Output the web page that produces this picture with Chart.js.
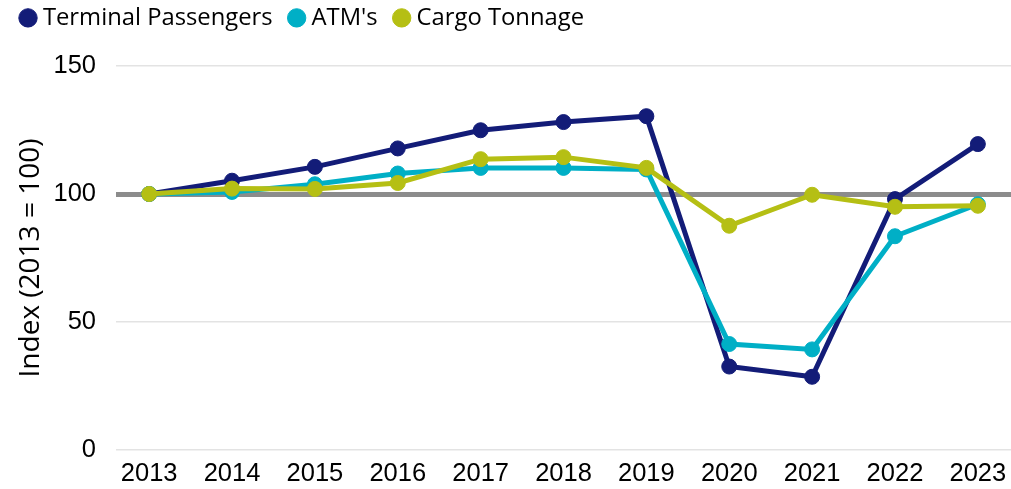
<!DOCTYPE html>
<html>
<head>
<meta charset="utf-8">
<script src="https://cdn.jsdelivr.net/npm/chart.js@4/dist/chart.umd.min.js"></script>
<style>
  html, body { margin: 0; padding: 0; background: #fff; overflow: hidden; }
  #wrap { width: 1011px; height: 489px; position: relative; }
  #chart { display: block; }
</style>
</head>
<body>
<div id="wrap"><canvas id="chart"></canvas></div>
<script>
// Index values, 2013 = 100
const years = [2013, 2014, 2015, 2016, 2017, 2018, 2019, 2020, 2021, 2022, 2023];
const terminalPassengers = [100, 105.2, 110.6, 117.8, 124.9, 128.1, 130.4, 32.6, 28.6, 98.0, 119.5];
const atms = [100, 100.8, 103.8, 108.0, 110.2, 110.2, 109.6, 41.4, 39.3, 83.5, 96.0];
const cargoTonnage = [100, 102.1, 102.0, 104.3, 113.6, 114.4, 110.2, 87.6, 99.7, 95.0, 95.4];
const yTicks = [0, 50, 100, 150];

const colors = {
    passengers: "#131c78",
    atms: "#00afc6",
    cargo: "#b5bf14"
};

const tickFont = { family: "'Liberation Sans', Arial, sans-serif", size: 25.5 };
const textFont = "'Open Sans', sans-serif";

function toPoints(values) {
    return years.map((yr, i) => ({ x: yr, y: values[i] }));
}

function lineSet(label, values, color, order) {
    return {
        label: label,
        data: toPoints(values),
        borderColor: color,
        backgroundColor: color,
        borderWidth: 5,
        pointRadius: 7.5,
        pointBorderWidth: 1,
        pointBorderColor: color,
        pointBackgroundColor: color,
        tension: 0,
        order: order
    };
}

// legend box gets a fixed height so the plot starts where the original does
const legendHeightPlugin = {
    id: "legendHeight",
    afterInit(chart) {
        const legend = chart.legend;
        const origFit = legend.fit;
        legend.fit = function () {
            origFit.call(this);
            this.height = 81;
        };
    }
};

const ctx = document.getElementById("chart");
new Chart(ctx, {
    type: "line",
    data: {
        datasets: [
            lineSet("Terminal Passengers", terminalPassengers, colors.passengers, 3),
            lineSet("ATM's", atms, colors.atms, 2),
            lineSet("Cargo Tonnage", cargoTonnage, colors.cargo, 1)
        ]
    },
    plugins: [legendHeightPlugin],
    options: {
        responsive: true,
        maintainAspectRatio: false,
        animation: false,
        layout: { autoPadding: false, padding: { left: 4, right: 0, top: -15, bottom: 0 } },
        plugins: {
            tooltip: { enabled: false },
            legend: {
                position: "top",
                align: "start",
                labels: {
                    usePointStyle: true,
                    pointStyle: "circle",
                    boxWidth: 6,
                    boxHeight: 13,
                    padding: 21,
                    color: "#000",
                    font: { family: textFont, size: 23.8 },
                    sort: (a, b) => a.datasetIndex - b.datasetIndex
                }
            }
        },
        scales: {
            x: {
                type: "linear",
                min: 2012.6,
                max: 2023.4,
                grid: { display: false, drawTicks: false },
                border: { display: false },
                ticks: {
                    stepSize: 1,
                    includeBounds: false,
                    padding: 9,
                    color: "#000",
                    font: tickFont,
                    callback: (v) => String(v)
                },
                afterFit: (scale) => {
                    scale.paddingLeft = 0;
                    scale.paddingRight = 0;
                    scale.height = 39;
                }
            },
            y: {
                min: 0,
                max: 150,
                border: { display: false },
                grid: {
                    drawTicks: false,
                    color: (c) => c.tick && c.tick.value === 100 ? "#8c8c8c" : "#e3e3e3",
                    lineWidth: (c) => c.tick && c.tick.value === 100 ? 5 : 1.5
                },
                afterBuildTicks: (scale) => {
                    scale.ticks = yTicks.map(v => ({ value: v }));
                },
                afterFit: (scale) => {
                    scale.width = 112;
                },
                ticks: {
                    padding: 20,
                    color: "#000",
                    font: tickFont
                },
                title: {
                    display: true,
                    text: "Index (2013 = 100)",
                    color: "#000",
                    padding: { top: 10, bottom: 0 },
                    font: { family: textFont, size: 28 }
                }
            }
        }
    }
});
</script>
</body>
</html>
